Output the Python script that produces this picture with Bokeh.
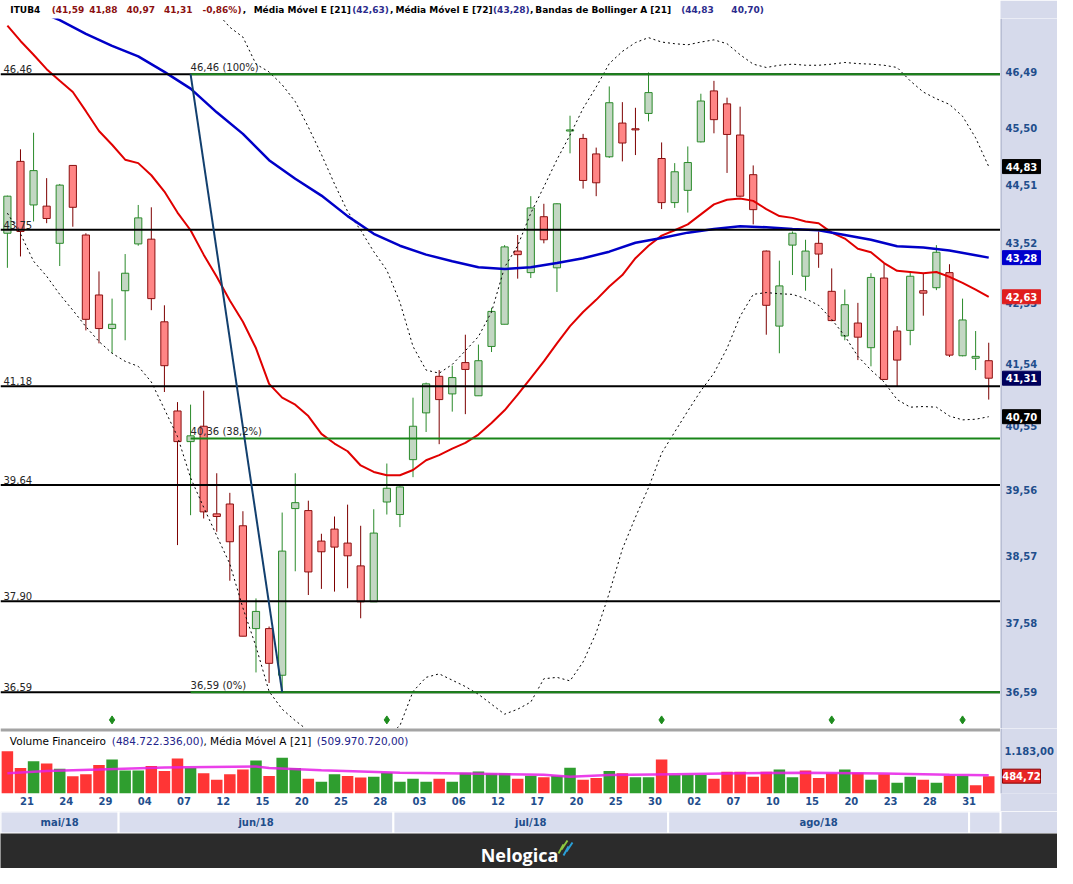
from bokeh.plotting import figure
from bokeh.layouts import column, row
from bokeh.models import Range1d, FixedTicker, CustomJSTickFormatter
from bokeh.core.properties import value
from bokeh.embed import file_html
from bokeh.resources import INLINE

# ---------------- data ----------------
symbol = "ITUB4"
opens = [43.69, 44.92, 44.17, 44.15, 43.52, 44.85, 43.66, 42.66, 42.11, 42.73,
         43.51, 43.59, 42.22, 40.79, 40.31, 40.55, 39.20, 39.35, 39.02, 37.50,
         37.50, 36.83, 39.28, 39.25, 38.79, 38.97, 38.76, 38.42, 37.89, 39.38,
         39.19, 40.03, 40.76, 41.34, 41.06, 41.56, 41.03, 41.82, 42.18, 43.39,
         43.03, 43.97, 43.11, 45.45, 45.32, 45.05, 45.00, 45.59, 45.49, 45.76,
         44.97, 44.21, 44.42, 45.26, 46.16, 45.93, 45.38, 44.69, 43.39, 42.15,
         43.49, 42.97, 43.52, 42.72, 41.99, 42.20, 41.80, 42.94, 42.07, 42.08,
         42.73, 42.78, 43.03, 41.67, 41.63, 41.59]
highs = [44.33, 45.13, 45.42, 44.63, 44.53, 44.85, 43.69, 43.05, 42.60, 43.34,
         44.17, 44.13, 42.49, 40.93, 40.89, 41.11, 39.82, 39.52, 39.24, 37.94,
         37.53, 39.22, 39.82, 39.40, 38.90, 39.16, 39.34, 39.02, 39.27, 39.97,
         39.62, 41.00, 41.24, 41.44, 41.51, 42.01, 41.85, 42.45, 43.49, 43.66,
         44.32, 44.19, 44.20, 45.72, 45.40, 45.16, 46.24, 45.96, 45.86, 46.49,
         45.25, 44.89, 45.18, 46.11, 46.34, 46.04, 45.88, 44.85, 43.40, 43.23,
         43.72, 43.58, 43.72, 43.10, 42.75, 42.53, 43.02, 43.18, 42.15, 43.04,
         43.02, 43.49, 43.17, 42.60, 42.07, 41.88]
lows = [43.11, 43.30, 43.89, 43.86, 43.14, 43.80, 42.08, 41.87, 41.71, 41.92,
        43.48, 42.41, 41.09, 38.73, 39.18, 39.13, 38.93, 38.20, 37.39, 36.87,
        36.72, 36.59, 38.34, 37.99, 38.08, 38.04, 38.09, 37.65, 37.89, 39.19,
        39.00, 39.76, 40.46, 40.27, 40.78, 40.74, 41.03, 41.73, 42.18, 42.93,
        42.94, 43.52, 42.71, 45.06, 44.45, 44.32, 44.98, 44.92, 45.03, 45.62,
        44.10, 44.12, 44.04, 45.25, 45.41, 44.72, 44.31, 43.84, 42.01, 41.71,
        42.99, 42.73, 43.11, 42.23, 41.92, 41.60, 41.50, 41.28, 41.17, 41.84,
        42.32, 42.74, 41.65, 41.66, 41.44, 40.97]
closes = [44.32, 43.72, 44.76, 43.94, 44.51, 44.13, 42.26, 42.11, 42.18, 43.02,
          43.95, 42.60, 41.51, 40.31, 40.40, 39.23, 39.16, 38.78, 37.39, 37.75,
          37.00, 38.64, 39.37, 38.33, 38.63, 38.70, 38.57, 37.89, 38.91, 39.59,
          39.61, 40.55, 41.22, 40.97, 41.32, 41.45, 41.59, 42.39, 43.46, 43.33,
          44.12, 43.58, 44.19, 45.47, 44.59, 44.55, 45.95, 45.24, 45.47, 46.13,
          44.21, 44.74, 44.90, 45.98, 45.65, 45.39, 44.32, 44.09, 42.49, 42.81,
          43.69, 43.39, 43.34, 42.24, 42.50, 41.97, 42.95, 41.29, 41.60, 42.97,
          42.69, 43.37, 41.68, 42.25, 41.66, 41.31]
prior_close = 44.60

# financial volume, millions of BRL
volume_mm = [1183, 711.5, 900, 840, 694, 480, 540, 797, 952, 643,
             643, 772, 626, 977, 711, 566, 386, 540, 669, 926,
             489, 1003, 711, 411, 326, 540, 489, 446, 471, 583,
             326, 411, 326, 411, 326, 583, 617, 557, 566, 411,
             497, 454, 497, 720, 386, 437, 626, 566, 454, 454,
             952, 514, 514, 514, 411, 609, 609, 471, 609, 669,
             454, 643, 437, 557, 669, 583, 386, 540, 300, 471,
             386, 300, 497, 489, 231, 484.72]
vol_ma_idx = [0, 3, 7, 12, 19, 20, 24, 30, 35, 41, 43, 46, 51, 56, 61, 67, 72, 75]
vol_ma_val = [566, 626, 669, 729, 754, 711, 651, 583, 557, 523, 471, 514, 540, 566, 583, 557, 523, 509.97]

ema21 = [47.34, 47.06, 46.81, 46.55, 46.34, 46.14, 45.80, 45.45, 45.21, 44.95,
         44.89, 44.68, 44.40, 44.04, 43.74, 43.33, 42.96, 42.57, 42.22, 41.79,
         41.22, 41.00, 40.89, 40.71, 40.43, 40.28, 40.16, 39.94, 39.84, 39.79,
         39.79, 39.87, 40.02, 40.10, 40.20, 40.29, 40.42, 40.60, 40.80, 41.05,
         41.31, 41.58, 41.87, 42.15, 42.38, 42.58, 42.80, 42.99, 43.27, 43.48,
         43.65, 43.74, 43.84, 44.01, 44.18, 44.26, 44.28, 44.24, 44.10, 43.98,
         43.95, 43.89, 43.86, 43.70, 43.60, 43.43, 43.37, 43.19, 43.06, 43.04,
         43.02, 43.04, 42.96, 42.86, 42.75, 42.63]
ema72_idx = [0, 2, 4, 6, 8, 10, 12, 14, 16, 18, 20, 22, 24, 26, 28, 30, 32, 34, 36, 38,
             40, 42, 44, 46, 48, 50, 52, 54, 56, 58, 60, 62, 64, 66, 68, 70, 72, 74, 75]
ema72 = [47.89, 47.64, 47.44, 47.19, 46.97, 46.78, 46.50, 46.20, 45.78, 45.40,
         44.94, 44.62, 44.33, 43.98, 43.68, 43.48, 43.33, 43.22, 43.12, 43.09,
         43.12, 43.19, 43.27, 43.38, 43.53, 43.61, 43.70, 43.76, 43.81, 43.79,
         43.76, 43.74, 43.66, 43.58, 43.47, 43.45, 43.40, 43.32, 43.28]
bb_up_idx = [15, 16, 17, 18, 19, 20, 21, 22, 23, 24, 25, 26, 27, 28, 29, 30, 31, 32, 33, 34,
             35, 36, 37, 38, 39, 40, 41, 42, 43, 44, 45, 46, 47, 48, 49, 50, 51, 52, 53, 54,
             55, 56, 57, 58, 59, 60, 61, 62, 63, 64, 65, 66, 67, 68, 69, 70, 71, 72, 73, 74, 75]
bb_up = [47.97, 47.58, 47.31, 47.13, 46.64, 46.50, 46.27, 45.97, 45.52, 45.04,
         44.53, 44.06, 43.74, 43.38, 43.07, 42.54, 41.82, 41.44, 41.39, 41.53,
         41.75, 41.98, 42.38, 43.12, 43.48, 44.03, 44.48, 44.95, 45.38, 45.85,
         46.23, 46.65, 46.87, 47.03, 47.12, 47.04, 47.01, 46.99, 47.04, 47.08,
         47.01, 46.81, 46.64, 46.58, 46.62, 46.64, 46.62, 46.62, 46.64, 46.67,
         46.65, 46.64, 46.62, 46.58, 46.34, 46.14, 46.02, 45.92, 45.71, 45.33, 44.83]
bb_low = [44.03, 43.68, 43.22, 42.97, 42.67, 42.41, 42.14, 41.90, 41.71, 41.58,
          41.50, 41.25, 40.82, 40.39, 39.75, 39.30, 38.87, 38.45, 37.80, 37.24,
          36.60, 36.35, 36.19, 36.05, 35.91, 35.82, 35.76, 35.76, 35.85, 35.96,
          36.12, 36.60, 36.80, 36.85, 36.76, 36.67, 36.56, 36.42, 36.28, 36.35,
          36.45, 36.78, 36.80, 36.75, 37.02, 37.44, 38.02, 38.67, 39.15, 39.60,
          40.13, 40.46, 40.79, 41.11, 41.39, 41.79, 42.31, 42.67, 42.70, 42.68,
          42.67, 42.60, 42.49, 42.26, 41.99, 41.66, 41.44, 41.25, 40.97, 40.85,
          40.86, 40.85, 40.71, 40.65, 40.66, 40.70]

sr_levels = [46.46, 43.75, 41.18, 39.64, 37.90, 36.59]
sr_labels = ["46,46", "43,75", "41,18", "39,64", "37,90", "36,59"]
fib_idx = [14, 21]
fib_prices = [46.46, 36.59]
fib_levels = [46.46, 40.36, 36.59]
fib_labels = ["46,46 (100%)", "40,36 (38,2%)", "36,59 (0%)"]
event_idx = [8, 29, 50, 63, 73]
event_level = 36.20

price_ticks = [46.49, 45.50, 44.51, 43.52, 42.53, 41.54, 40.55, 39.56, 38.57, 37.58, 36.59]
price_min, price_max = 36.08, 47.47
tag_values = [44.83, 43.28, 42.63, 41.31, 40.70]
tag_colors = ["#000000", "#0000cc", "#e01e1e", "#00005c", "#000000"]
vol_ticks = [1183.0]
vol_max = 1818
vol_tag = 484.72

day_tick_idx = [1, 4, 7, 10, 13, 16, 19, 22, 25, 28, 31, 34, 37, 40, 43, 46, 49, 52, 55, 58, 61, 64, 67, 70, 73]
day_labels = ["21", "24", "29", "04", "07", "12", "15", "20", "25", "28", "03", "06", "12",
              "17", "20", "25", "30", "02", "07", "10", "15", "20", "23", "28", "31"]
month_labels = ["mai/18", "jun/18", "jul/18", "ago/18", ""]
month_first_idx = [0, 9, 30, 51, 74]

header_parts = [(10, "ITUB4", "#000000"), (52, "(41,59", "#8b1010"), (90, "41,88", "#8b1010"),
                (128, "40,97", "#8b1010"), (166, "41,31", "#8b1010"), (205, "-0,86%)", "#8b1010"),
                (246, ",", "#000000"), (257, "Média Móvel E [21]", "#000000"),
                (357, "(42,63)", "#2b2b8c"), (395.5, ",", "#000000"), (401, "Média Móvel E [72]", "#000000"),
                (500, "(43,28)", "#2b2b8c"), (537.5, ",", "#000000"),
                (543, "Bandas de Bollinger A [21]", "#000000"), (691, "(44,83", "#2b2b8c"),
                (742, "40,70)", "#2b2b8c")]
vol_header_parts = [(9.5, "Volume Financeiro", "#000000"), (113, "(484.722.336,00)", "#23238a"),
                    (206, ", Média Móvel A [21]", "#000000"), (321, "(509.970.720,00)", "#23238a")]

# ---------------- layout constants ----------------
W, RB = 1057, 57
FW = W - RB
XS, XE = -0.527, 75.9
LAV = "#d6daeb"
AX_BLUE = "#1f4e8c"
F = value("DejaVu Sans")

n = len(closes)
idx = list(range(n))


def br(v):
    return f"{v:.2f}".replace(".", ",")


def txt(fig, xs, ys, texts, color, size, style="normal", align="left", baseline="middle", xo=0, yo=0):
    fig.text(x=xs, y=ys, text=texts, text_color=color, text_font=F, text_font_size=value(size),
             text_font_style=style, text_align=align, text_baseline=baseline, x_offset=xo, y_offset=yo)


def base_fig(**kw):
    f = figure(toolbar_location=None, output_backend="svg", min_border_left=0, min_border_right=0,
               min_border_top=0, min_border_bottom=0, **kw)
    f.frame_align = False
    f.outline_line_color = None
    f.grid.visible = False
    f.background_fill_color = "white"
    f.border_fill_color = "white"
    return f


def style_tags(fig, ys, texts, fills, borders):
    fig.rect(x=[21] * len(ys), y=ys, width=38, height=14, height_units="screen",
             fill_color=fills, line_color=borders, line_width=1)
    txt(fig, [21] * len(ys), ys, texts, "white", "10px", style="bold", align="center")

# ---------------- header strip ----------------
ph = base_fig(width=W, height=18, x_range=Range1d(0, W), y_range=Range1d(0, 18),
              x_axis_location=None, y_axis_location=None)
ph.quad(left=[FW], right=[W], bottom=[0], top=[18], fill_color=LAV, line_color=None)
for xr, t, c in header_parts:
    txt(ph, [xr * 0.985], [9], [t], c, "9px", style="bold")

# ---------------- price panel ----------------
p = base_fig(width=FW, height=710, x_range=Range1d(XS, XE), y_range=Range1d(price_min, price_max),
             y_axis_type="log", y_axis_location=None, x_axis_location=None)

up = [c >= o for o, c in zip(opens, closes)]
body_top = [max(o, c) for o, c in zip(opens, closes)]
body_bot = [min(o, c) for o, c in zip(opens, closes)]
wick_col = ["#2a8a2a" if u else "#7d0000" for u in up]
p.segment(x0=idx, y0=lows, x1=idx, y1=highs, line_color=wick_col, line_width=1)
p.vbar(x=idx, top=body_top, bottom=body_bot, width=0.55,
       fill_color=["#c3d7c3" if u else "#ff8585" for u in up],
       line_color=["#2a8a2a" if u else "#8b1010" for u in up], line_width=1)

p.line(bb_up_idx, bb_up, line_color="black", line_width=1, line_dash="2 3")
p.line(idx, bb_low, line_color="black", line_width=1, line_dash="2 3")
p.line(idx, ema21, line_color="#e00000", line_width=2)
p.line(ema72_idx, ema72, line_color="#0000c8", line_width=2.5)

p.segment(x0=[XS] * len(sr_levels), x1=[XE] * len(sr_levels), y0=sr_levels, y1=sr_levels,
          line_color="black", line_width=2)
p.segment(x0=[fib_idx[0]] * len(fib_levels), x1=[XE] * len(fib_levels), y0=fib_levels, y1=fib_levels,
          line_color="#198519", line_width=2)
p.line(fib_idx, fib_prices, line_color="#123f6e", line_width=2)
txt(p, [XS] * len(sr_levels), sr_levels, sr_labels, "#262626", "10px", baseline="bottom", xo=3, yo=-1)
txt(p, [fib_idx[0]] * len(fib_levels), fib_levels, fib_labels, "#262626", "10px", baseline="bottom", yo=-1)
p.scatter(event_idx, [event_level] * len(event_idx), marker="diamond", size=8, color="#1e8c1e")

# right price scale panel (shares the log price scale)
pr = base_fig(width=RB, height=710, x_range=Range1d(0, RB), y_range=p.y_range, y_axis_type="log",
              x_axis_location=None, y_axis_location=None)
pr.background_fill_color = LAV
pr.border_fill_color = LAV
pr.segment(x0=[0.5], x1=[0.5], y0=[price_min], y1=[price_max], line_color="#9aa1bd", line_width=1)
txt(pr, [5] * len(price_ticks), price_ticks, [br(v) for v in price_ticks], AX_BLUE, "10px", style="bold")
style_tags(pr, tag_values, [br(v) for v in tag_values], tag_colors, tag_colors)

# ---------------- volume panel (with the date axis) ----------------
pv = base_fig(width=FW, height=83, x_range=p.x_range, y_range=Range1d(0, vol_max),
              y_axis_location=None, x_axis_location="below")
pv.min_border_bottom = 18
prev = [prior_close] + closes[:-1]
vcol = ["#2f9e2f" if c >= pc else "#ff3535" for c, pc in zip(closes, prev)]
pv.vbar(x=idx, top=volume_mm, width=0.88, fill_color=vcol, line_color=None)
pv.line(vol_ma_idx, vol_ma_val, line_color="#e61ee6", line_width=2.5, line_alpha=0.85)
pv.segment(x0=[XS], x1=[XE], y0=[vol_max], y1=[vol_max], line_color="#a4a4a4", line_width=6)
for xr, t, c in vol_header_parts:
    txt(pv, [XS], [vol_max], [t], c, "10.5px", xo=xr * 0.985, yo=12)

tick_pos = [i + 0.5 for i in day_tick_idx]
dax = pv.xaxis[0]
dax.ticker = FixedTicker(ticks=tick_pos)
dax.formatter = CustomJSTickFormatter(args=dict(pos=tick_pos, labs=day_labels), code="""
const k = pos.findIndex(v => Math.abs(v - tick) < 1e-6);
return k < 0 ? '' : labs[k];""")
dax.major_tick_line_color = None
dax.minor_tick_line_color = None
dax.major_tick_out = 0
dax.major_tick_in = 0
dax.axis_line_color = None
dax.major_label_standoff = 3
dax.major_label_text_color = AX_BLUE
dax.major_label_text_font = "DejaVu Sans"
dax.major_label_text_font_style = "bold"
dax.major_label_text_font_size = "10px"

pvr = base_fig(width=RB, height=83, x_range=Range1d(0, RB), y_range=pv.y_range,
               x_axis_location=None, y_axis_location=None)
pvr.min_border_bottom = 18
pvr.background_fill_color = LAV
pvr.border_fill_color = LAV
pvr.segment(x0=[0.5], x1=[0.5], y0=[0], y1=[vol_max], line_color="#9aa1bd", line_width=1)
txt(pvr, [4], vol_ticks, ["1.183,00"], AX_BLUE, "10px", style="bold")
style_tags(pvr, [vol_tag], [br(vol_tag)], ["#e62626"], ["#8b0000"])

# ---------------- month row ----------------
XE_full = XS + (XE - XS) * W / FW
pm = base_fig(width=W, height=22, x_range=Range1d(XS, XE_full), y_range=Range1d(0, 1),
              x_axis_location=None, y_axis_location=None)
bounds = [b - 0.5 for b in month_first_idx[1:]]
m_left = [XS] + bounds
m_right = bounds + [XE]
pm.quad(left=[XS], right=[XE_full], bottom=[0], top=[1], fill_color=LAV, line_color=None)
pm.quad(left=m_left, right=m_right, bottom=[0] * len(m_left), top=[1] * len(m_left),
        fill_color="#d9ddee", line_color="white", line_width=2)
txt(pm, [(a + b) / 2 for a, b in zip(m_left, m_right)], [0.5] * len(m_left), month_labels,
    AX_BLUE, "10px", style="bold", align="center")

# ---------------- footer ----------------
pf = base_fig(width=W, height=35, x_range=Range1d(0, W), y_range=Range1d(0, 35),
              x_axis_location=None, y_axis_location=None)
pf.background_fill_color = "#2b2b2b"
pf.border_fill_color = "#2b2b2b"
pf.text(x=[519], y=[14], text=["Nelogica"], text_color="white", text_font=value("Open Sans"),
        text_font_size=value("18px"), text_font_style="bold", text_align="center", text_baseline="middle")
pf.line([558, 563, 561, 567], [15, 24, 19, 28], line_color="#8cc63f", line_width=2)
pf.line([563, 568, 566, 572], [13, 22, 17, 26], line_color="#2a9fd6", line_width=2)

layout = column(ph, row(p, pr, spacing=0), row(pv, pvr, spacing=0), pm, pf, spacing=0)
open("out.html", "w").write(file_html(layout, INLINE))
